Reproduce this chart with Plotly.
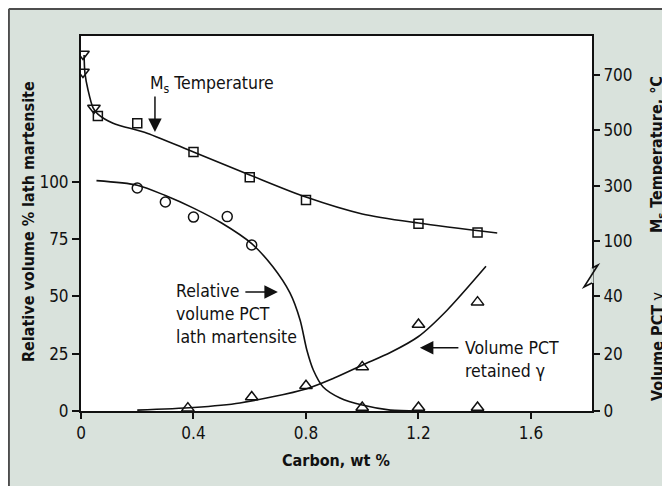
import plotly.graph_objects as go

# ── Datos ────────────────────────────────────────────────────────────────────
# Temperatura Ms (°C) — eje derecho superior
ms_tri_c = [0.007, 0.007, 0.046]
ms_tri_t = [776, 711, 581]
ms_sq_c = [0.06, 0.20, 0.40, 0.60, 0.80, 1.20, 1.41]
ms_sq_t = [552, 526, 422, 331, 248, 163, 131]
ms_fit_c = [0.011, 0.014, 0.025, 0.043, 0.06, 0.114, 0.235, 0.4, 0.6, 0.8, 1.0, 1.2, 1.48]
ms_fit_t = [772, 707, 646, 581, 559, 526, 490, 422, 339, 259, 198, 165, 129]

# Volumen relativo % de martensita en listones — eje izquierdo
lath_c = [0.20, 0.30, 0.40, 0.52, 0.607]
lath_v = [97.3, 91.2, 84.6, 84.8, 72.4]
lath_zero_c = [1.0, 1.2, 1.41]
lath_zero_v = [1.5, 1.5, 1.5]
lath_fit_c = [0.055, 0.2, 0.3, 0.4, 0.5, 0.607, 0.683, 0.743, 0.779, 0.803, 0.826,
              0.861, 0.921, 1.0, 1.1, 1.2]
lath_fit_v = [100.5, 98.5, 94, 88.5, 82, 73, 62.8, 51.5, 39.7, 26.6, 17.9,
              10.5, 5.7, 2.6, 0.4, 0]

# Volumen % de austenita retenida (γ) — eje derecho inferior
gam_c = [0.38, 0.607, 0.80, 1.0, 1.2, 1.41]
gam_v = [1.0, 4.9, 8.8, 15.4, 30.2, 38.0]
gam_fit_c = [0.2, 0.4, 0.565, 0.8, 0.9, 1.0, 1.1, 1.2, 1.3, 1.44]
gam_fit_v = [0.3, 1.2, 2.8, 7.7, 11.5, 16.0, 20.4, 26.0, 35.0, 50.5]

x_ticks = [0, 0.4, 0.8, 1.2, 1.6]
x_ticktext = ["0", "0.4", "0.8", "1.2", "1.6"]
left_ticks = [0, 25, 50, 75, 100]
gam_ticks = [0, 20, 40]
ms_ticks = [100, 300, 500, 700]

# ── Estilo ───────────────────────────────────────────────────────────────────
FONT = "DejaVu Sans Condensed, DejaVu Sans, sans-serif"
C_BG = "#D9E2DC"
C_INK = "#111111"
C_FRAME = "#4D4D4D"

# La página deja 8 px de margen en <body>: la figura se reduce en esa medida
OFF = 8
W, H = 670 - OFF, 486 - OFF
L, T, R, B = 81 - OFF, 36 - OFF, 78, 75

fig = go.Figure()

line = dict(color=C_INK, width=1.6)
mk = dict(color=C_INK, line=dict(width=1.5, color=C_INK))

fig.add_trace(go.Scatter(x=ms_fit_c, y=ms_fit_t, yaxis="y3", mode="lines",
                         line=dict(line, shape="spline", smoothing=0.8), showlegend=False))
fig.add_trace(go.Scatter(x=ms_tri_c, y=ms_tri_t, yaxis="y3", mode="markers",
                         marker=dict(mk, symbol="triangle-down-open", size=11), showlegend=False))
fig.add_trace(go.Scatter(x=ms_sq_c, y=ms_sq_t, yaxis="y3", mode="markers",
                         marker=dict(mk, symbol="square-open", size=9), showlegend=False))

fig.add_trace(go.Scatter(x=lath_fit_c, y=lath_fit_v, mode="lines",
                         line=dict(line, shape="spline", smoothing=0.8), showlegend=False))
fig.add_trace(go.Scatter(x=lath_c, y=lath_v, mode="markers",
                         marker=dict(mk, symbol="circle-open", size=10), showlegend=False))
fig.add_trace(go.Scatter(x=lath_zero_c, y=lath_zero_v, mode="markers",
                         marker=dict(mk, symbol="triangle-up-open", size=11), showlegend=False))

fig.add_trace(go.Scatter(x=gam_fit_c, y=gam_fit_v, yaxis="y2", mode="lines",
                         line=dict(line, shape="spline", smoothing=0.8), showlegend=False))
fig.add_trace(go.Scatter(x=gam_c, y=gam_v, yaxis="y2", mode="markers",
                         marker=dict(mk, symbol="triangle-up-open", size=11), showlegend=False))

tickfont = dict(family=FONT, size=17, color=C_INK)
titlefont = dict(family=FONT, size=16, color=C_INK)
ax_common = dict(ticks="outside", ticklen=7, tickwidth=1.5, tickcolor=C_INK,
                 showgrid=False, zeroline=False, tickfont=tickfont)

fig.update_layout(
    width=W, height=H, autosize=False,
    margin=dict(l=L, r=R, t=T, b=B),
    paper_bgcolor=C_BG, plot_bgcolor="#FFFFFF",
    font=dict(family=FONT, size=17.5, color=C_INK),
    xaxis=dict(ax_common, range=[0, 1.817], tickvals=x_ticks, ticktext=x_ticktext,
               ticklen=6, showline=True, linecolor=C_INK, linewidth=2, mirror=True),
    yaxis=dict(ax_common, range=[0, 163.6], tickvals=left_ticks,
               showline=True, linecolor=C_INK, linewidth=2, mirror=True),
    yaxis2=dict(ax_common, range=[0, 130.9], tickvals=gam_ticks, overlaying="y",
                side="right", anchor="x", showline=False),
    yaxis3=dict(ax_common, range=[-514, 841], tickvals=ms_ticks, overlaying="y",
                side="right", anchor="x", showline=False),
)


def px_x(p):
    """Posición horizontal en la imagen final (px) → fracción del área de trazado."""
    return (p - OFF - L) / (W - L - R)


def px_y(p):
    """Posición vertical en la imagen final (px) → fracción del área de trazado."""
    return (H - B - (p - OFF)) / (H - T - B)


# Marco exterior: borde superior e izquierdo del recuadro gris
fx, fy = px_x(OFF + 0.9), px_y(OFF + 0.9)
fig.add_shape(type="line", xref="paper", yref="paper", x0=fx, x1=1.3, y0=fy, y1=fy,
              line=dict(color=C_FRAME, width=2))
fig.add_shape(type="line", xref="paper", yref="paper", x0=fx, x1=fx, y0=-0.3, y1=fy,
              line=dict(color=C_FRAME, width=2))

# Corte del eje derecho (zigzag)
brk_y = px_y(276)
fig.add_shape(type="line", xref="paper", yref="paper", xsizemode="pixel", ysizemode="pixel",
              xanchor=1, yanchor=brk_y, x0=0, x1=0, y0=-7, y1=8,
              line=dict(color=C_BG, width=3), layer="above")
fig.add_shape(type="path", xref="paper", yref="paper", xsizemode="pixel", ysizemode="pixel",
              xanchor=1, yanchor=brk_y, path="M 0 8 L 6 11 L -8 -11 L 0 -7",
              line=dict(color=C_INK, width=1.6), layer="above")

# Títulos de los ejes
title_kw = dict(xref="paper", yref="paper", showarrow=False, font=titlefont,
                xanchor="center", yanchor="middle")
fig.add_annotation(text="<b>Carbon, wt %</b>", x=px_x(336), y=px_y(460), **title_kw)
fig.add_annotation(text="<b>Relative volume % lath martensite</b>", textangle=-90,
                   x=px_x(28), y=px_y(222), **title_kw)
fig.add_annotation(text="<b>M<sub>s</sub> Temperature, °C</b>", textangle=-90,
                   x=px_x(657), y=px_y(155), **title_kw)
fig.add_annotation(text="<b>Volume PCT</b> γ", textangle=-90,
                   x=px_x(657), y=px_y(346), **title_kw)

# Rótulos con flechas
arrow = dict(showarrow=True, arrowhead=2, arrowsize=1.8, arrowwidth=1.5, arrowcolor=C_INK)
fig.add_annotation(text="M<sub>s</sub> Temperature", x=0.238, y=664, yref="y3",
                   xanchor="left", yanchor="middle", showarrow=False)
fig.add_annotation(text="", x=0.263, y=494, yref="y3", ax=0, ay=-37, **arrow)

fig.add_annotation(text="Relative<br>volume PCT<br>lath martensite", x=0.33, y=42.3,
                   xanchor="left", yanchor="middle", align="left", showarrow=False)
fig.add_annotation(text="", x=0.70, y=51.9, ax=-34, ay=0, **arrow)

fig.add_annotation(text="Volume PCT<br>retained γ", x=1.358, y=17.9, yref="y2",
                   xanchor="left", yanchor="middle", align="left", showarrow=False)
fig.add_annotation(text="", x=1.205, y=22.1, yref="y2", ax=40, ay=0, **arrow)

fig.write_html("out.html")
